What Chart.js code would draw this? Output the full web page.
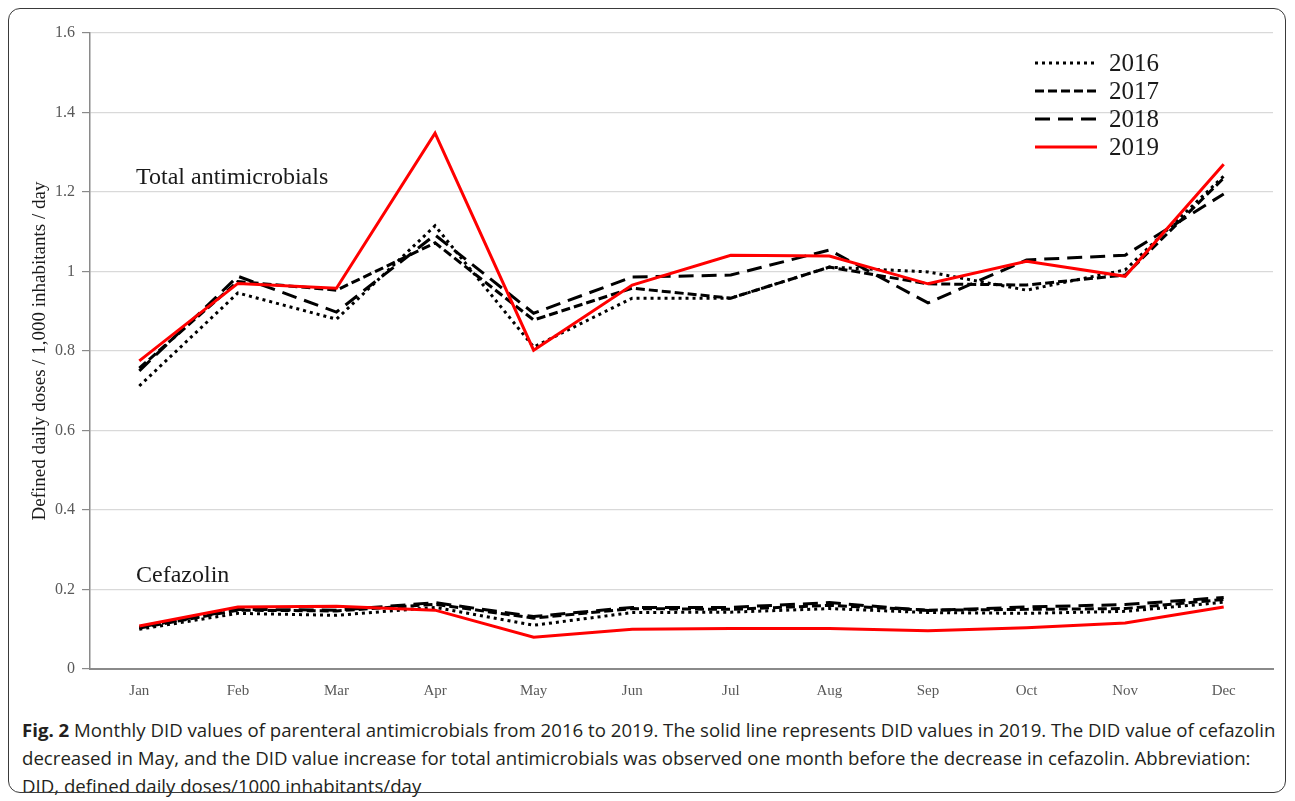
<!DOCTYPE html>
<html>
<head>
<meta charset="utf-8">
<script src="https://cdn.jsdelivr.net/npm/chart.js@4.4.1/dist/chart.umd.min.js"></script>
<style>
  html, body { margin: 0; padding: 0; background: #fff; }
  body { width: 1295px; height: 801px; position: relative; overflow: hidden; }
  #frame {
    position: absolute; left: 8px; top: 8px; width: 1276px; height: 783px;
    border: 1.5px solid #3a3a3a; border-radius: 12px; pointer-events: none;
  }
  #wrap { position: absolute; left: 0; top: 0; width: 1295px; height: 710px; }
  #caption {
    position: absolute; left: 22px; top: 716px;
    font-family: "Open Sans", sans-serif; font-size: 18.5px; line-height: 27.8px;
    color: #231f20; transform-origin: left top; white-space: nowrap;
  }
  #caption b { font-weight: 700; }
</style>
</head>
<body>
<div id="wrap"><canvas id="lineChart"></canvas></div>
<div id="caption">
  <div id="cap1"><b>Fig. 2</b> Monthly DID values of parenteral antimicrobials from 2016 to 2019. The solid line represents DID values in 2019. The DID value of cefazolin</div>
  <div>decreased in May, and the DID value increase for total antimicrobials was observed one month before the decrease in cefazolin. Abbreviation:</div>
  <div>DID, defined daily doses/1000 inhabitants/day</div>
</div>
<div id="frame"></div>

<script>
// DONNEES
const months = ["Jan", "Feb", "Mar", "Apr", "May", "Jun", "Jul", "Aug", "Sep", "Oct", "Nov", "Dec"];
const years = ["2016", "2017", "2018", "2019"];

// total antimicrobials
const total2016 = [0.712, 0.946, 0.880, 1.115, 0.810, 0.933, 0.933, 1.011, 0.999, 0.953, 1.004, 1.240];
const total2017 = [0.757, 0.975, 0.953, 1.072, 0.878, 0.958, 0.933, 1.011, 0.969, 0.966, 0.991, 1.235];
const total2018 = [0.750, 0.988, 0.898, 1.092, 0.895, 0.986, 0.991, 1.054, 0.921, 1.029, 1.041, 1.195];
const total2019 = [0.775, 0.970, 0.958, 1.348, 0.802, 0.966, 1.041, 1.039, 0.969, 1.026, 0.988, 1.270];

// cefazolin
const cefa2016 = [0.100, 0.140, 0.135, 0.155, 0.110, 0.142, 0.143, 0.152, 0.142, 0.140, 0.145, 0.168];
const cefa2017 = [0.103, 0.148, 0.146, 0.163, 0.128, 0.152, 0.150, 0.160, 0.148, 0.150, 0.152, 0.175];
const cefa2018 = [0.105, 0.150, 0.148, 0.167, 0.132, 0.155, 0.155, 0.167, 0.147, 0.156, 0.162, 0.180];
const cefa2019 = [0.108, 0.156, 0.158, 0.148, 0.080, 0.100, 0.102, 0.102, 0.096, 0.104, 0.116, 0.156];

const yTicks = [0, 0.2, 0.4, 0.6, 0.8, 1, 1.2, 1.4, 1.6];
const yTitle = "Defined daily doses / 1,000 inhabitants / day";
const groupLabels = ["Total antimicrobials", "Cefazolin"];
const groupLabelY = [1.235, 0.234];

// styles par annee
const yearStyle = {
    "2016": { color: "#000000", dash: [3, 4] },
    "2017": { color: "#000000", dash: [9, 4] },
    "2018": { color: "#000000", dash: [15, 8] },
    "2019": { color: "#ff0000", dash: [] }
};

const serif = "'Liberation Serif', 'Times New Roman', serif";
Chart.defaults.font.family = serif;

function makeSet(year, values, group) {
    const st = yearStyle[year];
    return {
        label: year,
        group: group,
        data: values,
        borderColor: st.color,
        backgroundColor: st.color,
        borderDash: st.dash,
        borderWidth: 3,
        pointRadius: 0,
        tension: 0,
        fill: false,
        order: year === "2019" ? 0 : 1
    };
}

const datasets = [
    makeSet("2016", total2016, 0), makeSet("2017", total2017, 0),
    makeSet("2018", total2018, 0), makeSet("2019", total2019, 0),
    makeSet("2016", cefa2016, 1), makeSet("2017", cefa2017, 1),
    makeSet("2018", cefa2018, 1), makeSet("2019", cefa2019, 1)
];

// LEGENDE + TEXTES DANS LE GRAPHIQUE
const insidePlugin = {
    id: "inside",
    afterDatasetsDraw(chart) {
        const ctx = chart.ctx;
        const area = chart.chartArea;
        const sy = chart.scales.y;
        ctx.save();

        // titre axe Y
        ctx.save();
        ctx.translate(40, (area.top + area.bottom) / 2);
        ctx.rotate(-Math.PI / 2);
        ctx.font = "19px " + serif;
        ctx.fillStyle = "#1a1a1a";
        ctx.textAlign = "center";
        ctx.textBaseline = "middle";
        ctx.fillText(yTitle, 0, 0);
        ctx.restore();

        // textes des groupes
        ctx.fillStyle = "#1a1a1a";
        ctx.font = "24px " + serif;
        ctx.textBaseline = "middle";
        ctx.textAlign = "left";
        groupLabels.forEach((t, i) => {
            ctx.fillText(t, area.left + 46, sy.getPixelForValue(groupLabelY[i]));
        });

        // legende
        ctx.font = "25px " + serif;
        years.forEach((yr, i) => {
            const st = yearStyle[yr];
            const y = area.top + 30 + i * 28;
            ctx.strokeStyle = st.color;
            ctx.lineWidth = 3;
            ctx.setLineDash(st.dash);
            ctx.beginPath();
            ctx.moveTo(area.right - 238, y);
            ctx.lineTo(area.right - 176, y);
            ctx.stroke();
            ctx.setLineDash([]);
            ctx.fillStyle = "#1a1a1a";
            ctx.fillText(yr, area.right - 164, y + 1);
        });
        ctx.restore();
    }
};

const graphLine = new Chart(document.querySelector("#lineChart").getContext("2d"), {
    type: "line",
    data: { labels: months, datasets: datasets },
    plugins: [insidePlugin],
    options: {
        responsive: true,
        maintainAspectRatio: false,
        animation: false,
        layout: { padding: { top: 33, right: 22, left: 0, bottom: 0 } },
        plugins: {
            legend: { display: false },
            tooltip: { enabled: false }
        },
        scales: {
            x: {
                offset: true,
                afterFit(scale) { scale.height = 41; },
                grid: { display: false },
                border: { display: true, color: "#8a8a8a", width: 2 },
                ticks: {
                    color: "#595959",
                    padding: 5,
                    font: { family: serif, size: 15 }
                }
            },
            y: {
                min: 0,
                max: 1.6,
                afterFit(scale) { scale.width = 90; },
                afterBuildTicks(scale) { scale.ticks = yTicks.map(v => ({ value: v })); },
                grid: {
                    color: "#d9d9d9",
                    lineWidth: 1.2,
                    tickLength: 8,
                    tickColor: "#8a8a8a"
                },
                border: { color: "#8a8a8a", width: 1.5 },
                ticks: {
                    color: "#595959",
                    padding: 7,
                    font: { family: serif, size: 16 },
                    callback: v => String(+v.toFixed(1))
                }
            }
        }
    }
});

// largeur de la legende du bas
const cap = document.querySelector("#caption");
const w = document.querySelector("#cap1").scrollWidth;
cap.style.transform = "scaleX(" + (1253 / w) + ")";
</script>
</body>
</html>
